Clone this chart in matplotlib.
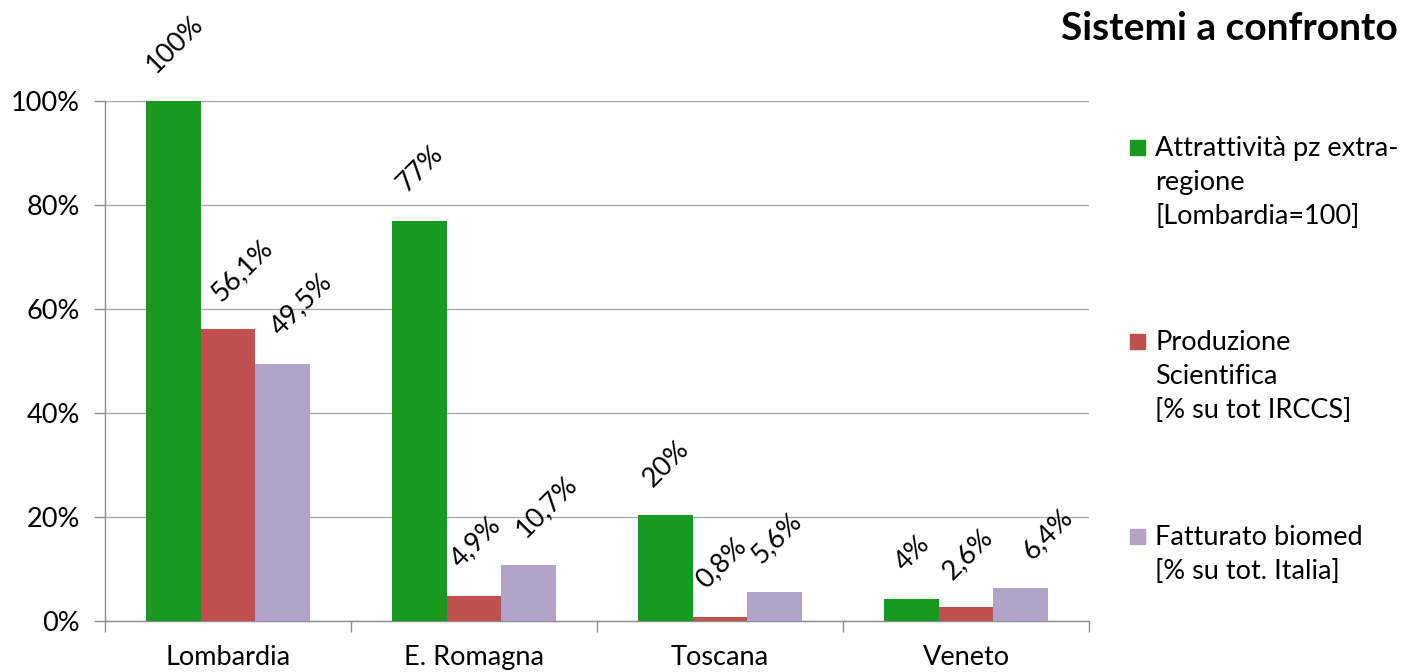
import matplotlib
matplotlib.use("Agg")
import matplotlib.pyplot as plt
import numpy as np
from matplotlib.patches import Rectangle

categories = ["Lombardia", "E. Romagna", "Toscana", "Veneto"]
series_names = ["Attrattività pz extra-\nregione\n[Lombardia=100]",
                "Produzione\nScientifica\n[% su tot IRCCS]",
                "Fatturato biomed\n[% su tot. Italia]"]
attrattivita = [100, 77, 20.4, 4.2]
produzione = [56.1, 4.9, 0.8, 2.6]
fatturato = [49.5, 10.7, 5.6, 6.4]
attr_labels = ["100%", "77%", "20%", "4%"]
prod_labels = ["56,1%", "4,9%", "0,8%", "2,6%"]
fatt_labels = ["49,5%", "10,7%", "5,6%", "6,4%"]
yticks = [0, 20, 40, 60, 80, 100]
ytick_labels = ["0%", "20%", "40%", "60%", "80%", "100%"]
title = "Sistemi a confronto"

# horizontal nudges (points) applied to data labels to avoid overlaps
label_nudge = [[0, 0, 0, 0], [9, 0, 0, 0], [12, 12, 0, 18]]

colors = ["#169A20", "#C0504D", "#B1A2CA"]
font = "Lato"
plt.rcParams["font.family"] = [font, "DejaVu Sans"]
fs = 19.5

fig = plt.figure(figsize=(14.02, 6.72), dpi=100)
ax = fig.add_axes([105/1402, 1-621/672, (1089-105)/1402, (621-101)/672])

x = np.arange(len(categories))
w = 0.223
all_vals = [attrattivita, produzione, fatturato]
all_labels = [attr_labels, prod_labels, fatt_labels]
for i, (vals, labs) in enumerate(zip(all_vals, all_labels)):
    pos = x + (i - 1) * w
    ax.bar(pos, vals, width=w, color=colors[i], zorder=3)
    for j, (px, v, lab) in enumerate(zip(pos, vals, labs)):
        ax.annotate(lab, (px, v), xytext=(1 + label_nudge[i][j], 17),
                    textcoords="offset points",
                    ha="center", va="bottom", rotation=45, fontsize=fs,
                    color="#000000")

ax.set_xlim(-0.5, len(categories) - 0.5)
ax.set_ylim(0, 100)
ax.set_yticks(yticks)
ax.set_yticklabels(ytick_labels, fontsize=fs)
ax.yaxis.grid(True, color="#A6A6A6", linewidth=0.9, zorder=0)
ax.set_axisbelow(True)
ax.set_xticks(np.arange(len(categories) + 1) - 0.5)
ax.set_xticklabels([])
ax.tick_params(axis="x", length=8, color="#8C8C8C", width=1)
ax.tick_params(axis="y", length=8, color="#8C8C8C", width=1, pad=10)
for i, c in enumerate(categories):
    ax.text(x[i], -4.6, c, ha="center", va="top", fontsize=fs,
            transform=ax.transData)
for s in ["top", "right"]:
    ax.spines[s].set_visible(False)
for s in ["left", "bottom"]:
    ax.spines[s].set_color("#8C8C8C")
    ax.spines[s].set_linewidth(1)

fig.text(1398/1402, 1-29/672, title, ha="right", va="center",
         fontsize=28, fontweight="bold")

legend_y = [147, 341, 536]
for i, name in enumerate(series_names):
    yp = legend_y[i]
    fig.patches.append(Rectangle((1130/1402, 1-(yp+8)/672), 15/1402, 15/672,
                                 transform=fig.transFigure, color=colors[i]))
    fig.text(1155/1402, 1-(yp-11)/672, name, ha="left", va="top",
             fontsize=fs, linespacing=1.45)

fig.savefig("out.png", dpi=100)
